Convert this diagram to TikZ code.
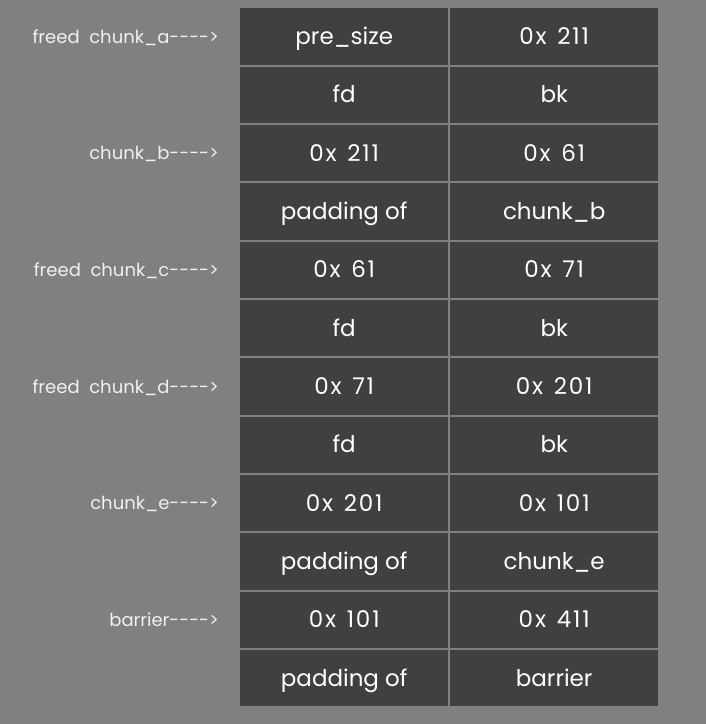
\documentclass[tikz,border=0pt]{standalone}
\usepackage{fontspec}
\setmainfont{Poppins}[Ligatures=NoCommon, Numbers=Monospaced]
\definecolor{bg}{HTML}{808080}
\definecolor{cellc}{HTML}{404040}
\definecolor{lab}{HTML}{F0F0F0}
\newcommand{\arr}{-\kern0pt-\kern0pt-\kern0pt-\kern0pt>}
\newcommand{\hexv}[1]{{\addfontfeature{LetterSpace=8}0x\hspace{0.12em} #1}}
\begin{document}
\begin{tikzpicture}[x=1pt,y=-1pt,
  cell/.style={fill=cellc, anchor=north west, minimum width=208pt, minimum height=56.33pt, inner sep=0pt},
  ctxt/.style={text=white, inner sep=0pt, text height=16pt, text depth=0pt, font=\fontsize{23}{27}\selectfont},
  lbl/.style={text=lab, anchor=east, inner sep=0pt, text height=12.6pt, text depth=0pt, font=\fontsize{18}{22}\selectfont}]
\useasboundingbox (0,0) rectangle (706,724);
\fill[bg] (0,0) rectangle (706,724);
\def\rh{58.333}
\foreach \i/\a/\b in {0/pre\_size/\hexv{211}, 1/fd/bk, 2/\hexv{211}/\hexv{61}, 3/padding of/chunk\_b, 4/\hexv{61}/\hexv{71}, 5/fd/bk, 6/\hexv{71}/\hexv{201}, 7/fd/bk, 8/\hexv{201}/\hexv{101}, 9/padding of/chunk\_e, 10/\hexv{101}/\hexv{411}, 11/padding of/barrier}{
  \node[cell] (r\i c0) at (240, {8+\i*\rh}) {};
  \node[cell] (r\i c1) at (450, {8+\i*\rh}) {};
  \node[ctxt] (t\i a) at (r\i c0.center) {\a};
  \node[ctxt] (t\i b) at (r\i c1.center) {\b};
}
\foreach \i/\t in {0/freed\ \ chunk\_a\arr, 2/chunk\_b\arr, 4/freed\ \ chunk\_c\arr, 6/freed\ \ chunk\_d\arr, 8/chunk\_e\arr, 10/barrier\arr}{
  \node[lbl] (l\i) at (219, {8+\i*\rh+29}) {\t};
}
\end{tikzpicture}
\end{document}
